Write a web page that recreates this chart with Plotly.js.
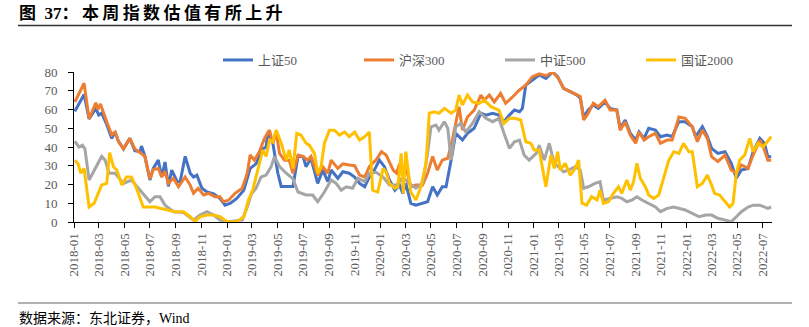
<!DOCTYPE html>
<html>
<head>
<meta charset="utf-8">
<script src="https://cdn.plot.ly/plotly-3.0.1.min.js"></script>
<style>
html,body{margin:0;padding:0;background:#fff;}
#chart{width:809px;height:327px;}
</style>
</head>
<body>
<div id="chart"></div>
<script>
// ---- 上证50 ----
const dates50 = ["2018-01-03","2018-01-25","2018-02-06","2018-02-22","2018-03-01","2018-03-08","2018-03-20","2018-04-01","2018-04-09","2018-04-17","2018-04-29","2018-05-14","2018-05-26","2018-06-07","2018-06-11","2018-06-19","2018-07-01","2018-07-09","2018-07-21","2018-07-29","2018-08-06","2018-08-14","2018-08-22","2018-09-04","2018-09-11","2018-09-23","2018-10-05","2018-10-13","2018-10-21","2018-11-02","2018-11-14","2018-11-30","2018-12-15","2018-12-27","2019-01-09","2019-01-24","2019-02-10","2019-02-25","2019-03-11","2019-03-27","2019-04-04","2019-04-08","2019-04-20","2019-05-02","2019-05-10","2019-05-22","2019-06-07","2019-06-19","2019-07-01","2019-07-08","2019-07-20","2019-08-05","2019-08-17","2019-08-29","2019-09-06","2019-09-22","2019-10-04","2019-10-19","2019-11-01","2019-11-13","2019-11-25","2019-12-06","2019-12-18","2019-12-30","2020-01-11","2020-01-23","2020-02-05","2020-02-16","2020-02-24","2020-03-02","2020-03-14","2020-03-26","2020-04-11","2020-04-23","2020-05-05","2020-05-16","2020-05-28","2020-06-06","2020-06-18","2020-06-29","2020-07-15","2020-07-27","2020-08-12","2020-08-28","2020-09-09","2020-09-25","2020-10-10","2020-10-22","2020-11-04","2020-11-16","2020-11-28","2020-12-05","2020-12-13","2020-12-29","2021-01-14","2021-01-30","2021-02-15","2021-02-27","2021-03-13","2021-03-29","2021-04-14","2021-04-22","2021-04-30","2021-05-11","2021-05-23","2021-06-04","2021-06-20","2021-07-02","2021-07-18","2021-07-26","2021-08-07","2021-08-19","2021-09-01","2021-09-09","2021-09-21","2021-10-02","2021-10-18","2021-10-30","2021-11-15","2021-11-27","2021-12-13","2021-12-28","2022-01-14","2022-01-22","2022-02-07","2022-02-19","2022-03-01","2022-03-16","2022-04-02","2022-04-17","2022-04-29","2022-05-11","2022-05-27","2022-06-08","2022-06-24","2022-07-05","2022-07-13","2022-07-21"];
const vals50 = [59,68,55,60.6,57,58,52,44.6,48,43,39,44.6,38,37.5,40.5,35,22.4,28.6,33,24,32,19,27.7,21.5,21.5,35,26,24,25,18,16,15,12.6,9,10,12.6,17,28.6,31,39,40,48,42,26,19,19,19,35,35,29.5,34,20.6,27.7,21.5,27.7,23.3,26.8,26,24,20.6,18.8,24,27.7,33,29.5,22.4,17,19.7,15.3,20.6,10,9,10,10.8,18.8,14.4,18.8,18.8,33,47.3,43.7,47.3,50,58,57,58,57,53.5,57,59.7,58.8,60.6,73,75.7,78.4,76.6,80,77.5,71.3,69.5,67.7,66,56,59.7,62.4,60.6,64,60.6,59.7,50,54.4,47.3,43.7,48,44.6,50,49,45.5,46.4,45.5,53.5,53.5,50.8,45.5,50.8,45.5,39.3,36.6,37.5,31.3,23.3,27.7,28.6,37.5,44.6,42,34.8,34.8];

// ---- 沪深300 ----
const dates300 = ["2018-01-03","2018-01-25","2018-02-06","2018-02-22","2018-02-27","2018-03-05","2018-03-20","2018-04-01","2018-04-09","2018-04-17","2018-04-29","2018-05-14","2018-05-26","2018-06-07","2018-06-19","2018-07-01","2018-07-09","2018-07-21","2018-07-29","2018-08-06","2018-08-14","2018-08-26","2018-09-07","2018-09-23","2018-10-05","2018-10-13","2018-10-24","2018-11-06","2018-11-18","2018-12-03","2018-12-15","2018-12-23","2019-01-05","2019-01-20","2019-02-06","2019-02-18","2019-02-25","2019-03-07","2019-03-19","2019-03-31","2019-04-12","2019-04-20","2019-04-28","2019-05-06","2019-05-18","2019-05-29","2019-06-07","2019-06-19","2019-07-01","2019-07-12","2019-07-20","2019-08-05","2019-08-17","2019-08-29","2019-09-06","2019-09-22","2019-10-04","2019-10-19","2019-11-01","2019-11-13","2019-11-25","2019-12-06","2019-12-22","2020-01-04","2020-01-15","2020-02-01","2020-02-09","2020-02-16","2020-02-24","2020-03-02","2020-03-14","2020-03-26","2020-04-11","2020-04-23","2020-05-05","2020-05-16","2020-05-28","2020-06-10","2020-06-21","2020-07-07","2020-07-15","2020-07-27","2020-08-12","2020-08-28","2020-09-05","2020-09-17","2020-09-29","2020-10-14","2020-10-26","2020-11-12","2020-11-28","2020-12-13","2020-12-29","2021-01-14","2021-01-30","2021-02-15","2021-03-01","2021-03-13","2021-03-29","2021-04-14","2021-04-22","2021-04-30","2021-05-11","2021-05-23","2021-06-04","2021-06-20","2021-07-02","2021-07-18","2021-07-26","2021-08-07","2021-08-19","2021-09-01","2021-09-09","2021-09-21","2021-10-02","2021-10-18","2021-10-30","2021-11-15","2021-11-27","2021-12-13","2021-12-28","2022-01-14","2022-01-26","2022-02-07","2022-02-19","2022-03-01","2022-03-16","2022-04-02","2022-04-17","2022-04-29","2022-05-11","2022-05-27","2022-06-08","2022-06-24","2022-07-05","2022-07-13","2022-07-21"];
const vals300 = [64,74,55,63.6,60,63,53.5,46.4,48,43,39,44.6,39,37,35,23,28,28.6,24,27,20.6,23.3,18.8,24,19.7,15.3,18,14.4,15.3,13.5,13.5,10.8,11.7,15.3,18,26,35.7,33,37.5,44.6,49,42,48,36.6,33,33,26,35.7,35,33,35,25,29.5,26,33,28.6,31,30.4,30,25,24,29.5,33,37.5,35.7,27.7,26,31,26,29.5,18.8,19.7,19.7,26,35,27.7,33,34,43.7,61.5,49,56,59.7,67.7,65,67.7,64,68.6,63.3,66.8,70.4,73,77.5,79,78,80,76.6,71.3,69.5,67.7,67,54.4,58,63.3,61.5,65,59.7,59.7,49,53.5,46.4,42,48,43.7,45.5,47.3,42,43.7,43.7,56,55.3,50.8,42.8,49,44.6,34.8,32.2,35.7,27.7,26,30.4,28.6,35.7,43.7,38.4,33,33];

// ---- 中证500 ----
const dates500 = ["2018-01-03","2018-01-13","2018-01-21","2018-01-27","2018-02-06","2018-02-18","2018-03-08","2018-03-16","2018-03-26","2018-04-09","2018-04-29","2018-05-18","2018-06-03","2018-06-19","2018-07-01","2018-07-13","2018-07-25","2018-08-06","2018-08-26","2018-09-19","2018-10-13","2018-10-28","2018-11-14","2018-11-30","2018-12-15","2019-01-01","2019-01-16","2019-02-06","2019-02-18","2019-02-28","2019-03-11","2019-03-23","2019-04-04","2019-04-16","2019-04-24","2019-05-06","2019-05-22","2019-06-07","2019-06-19","2019-07-08","2019-07-24","2019-08-05","2019-08-21","2019-09-06","2019-09-18","2019-09-30","2019-10-12","2019-10-27","2019-11-09","2019-11-25","2019-12-06","2019-12-22","2020-01-08","2020-01-23","2020-02-09","2020-02-24","2020-03-10","2020-03-26","2020-04-11","2020-04-23","2020-05-01","2020-05-13","2020-05-20","2020-06-02","2020-06-10","2020-06-18","2020-06-29","2020-07-11","2020-07-23","2020-08-08","2020-08-24","2020-09-09","2020-09-25","2020-10-10","2020-10-22","2020-11-04","2020-11-16","2020-11-28","2020-12-09","2020-12-21","2021-01-07","2021-01-14","2021-01-26","2021-02-07","2021-02-19","2021-03-01","2021-03-13","2021-03-25","2021-04-10","2021-04-22","2021-04-30","2021-05-11","2021-05-27","2021-06-08","2021-06-16","2021-07-02","2021-07-18","2021-07-30","2021-08-11","2021-08-23","2021-09-04","2021-09-16","2021-10-02","2021-10-18","2021-10-30","2021-11-15","2021-12-01","2021-12-13","2021-12-28","2022-01-14","2022-01-30","2022-02-15","2022-03-01","2022-03-16","2022-04-02","2022-04-17","2022-04-29","2022-05-11","2022-05-27","2022-06-08","2022-06-24","2022-07-05","2022-07-13","2022-07-21"];
const vals500 = [43,40,41,39,22.4,27.7,35,33,26,26,20.6,22.4,18,13.5,10.8,13.5,13.5,9,5.5,5,1,3.7,5.5,3.7,1,0.2,0.7,1,8,15,18,24,25,29.5,35,29.5,26,23,16,14.4,14.4,10.8,16,22.4,20.6,17,18.8,18,23.3,21.5,26,26.5,24,19.7,19.7,24,20.6,18,20.6,36.6,50.8,51.7,49,53.5,50,33,50.8,52.6,48,52.6,58.8,55.3,53.5,55.3,47.3,39.3,42.8,43.7,35.7,33,36.6,41,33,42,31,29.5,26.8,27.7,29.5,27.7,18,18.8,20.6,21.5,11.7,12.6,13.5,12.6,10.8,11.7,13.5,11.7,10,8,5.5,7.3,8,7.3,6.4,4.6,2.8,3.7,3.7,2,1,0.2,2.8,5.5,8,9,9,8,7.3,8];

// ---- 国证2000 ----
const dates2000 = ["2018-01-03","2018-01-11","2018-01-17","2018-01-25","2018-02-06","2018-02-18","2018-03-01","2018-03-08","2018-03-20","2018-03-27","2018-04-05","2018-04-13","2018-04-25","2018-05-06","2018-05-18","2018-05-30","2018-06-15","2018-07-01","2018-07-13","2018-07-25","2018-08-10","2018-08-30","2018-09-19","2018-10-05","2018-10-17","2018-10-28","2018-11-14","2018-11-30","2018-12-15","2019-01-01","2019-01-24","2019-02-10","2019-02-21","2019-03-03","2019-03-15","2019-03-27","2019-04-04","2019-04-12","2019-04-20","2019-04-28","2019-05-10","2019-05-22","2019-05-29","2019-06-07","2019-06-16","2019-06-26","2019-07-08","2019-07-16","2019-07-28","2019-08-05","2019-08-13","2019-08-21","2019-09-02","2019-09-14","2019-09-26","2019-10-08","2019-10-19","2019-11-01","2019-11-13","2019-11-25","2019-12-06","2019-12-14","2019-12-26","2020-01-08","2020-01-15","2020-01-23","2020-02-05","2020-02-12","2020-02-20","2020-02-25","2020-03-02","2020-03-14","2020-03-26","2020-04-07","2020-04-19","2020-04-27","2020-05-09","2020-05-20","2020-06-02","2020-06-18","2020-06-29","2020-07-07","2020-07-15","2020-07-27","2020-08-08","2020-08-24","2020-09-05","2020-09-21","2020-10-10","2020-10-22","2020-11-04","2020-11-16","2020-12-01","2020-12-13","2020-12-25","2021-01-02","2021-01-14","2021-01-22","2021-01-30","2021-02-11","2021-02-19","2021-02-27","2021-03-05","2021-03-17","2021-03-29","2021-04-10","2021-04-18","2021-04-26","2021-05-07","2021-05-19","2021-06-01","2021-06-08","2021-06-16","2021-06-28","2021-07-10","2021-07-22","2021-07-30","2021-08-11","2021-08-19","2021-08-27","2021-09-04","2021-09-12","2021-09-24","2021-10-02","2021-10-14","2021-10-26","2021-11-07","2021-11-19","2021-12-01","2021-12-13","2021-12-24","2022-01-06","2022-01-14","2022-01-26","2022-02-07","2022-02-19","2022-03-01","2022-03-08","2022-03-20","2022-04-02","2022-04-13","2022-04-21","2022-04-29","2022-05-07","2022-05-19","2022-05-31","2022-06-08","2022-06-20","2022-07-01","2022-07-09","2022-07-21"];
const vals2000 = [33,31,26,28.6,8,10,16,19.7,20.6,37,29.5,27.7,19.7,24,24,18,8,8,8,7.3,6.4,5.5,5.5,2.8,0.2,2.8,3.7,3.7,2.8,0.2,0.2,2.8,11.7,17,27.7,38.4,35,43.7,42.8,49,42,33,38.4,28.6,47.3,46.4,42,41,36.6,26,29.5,42,49,49,46.4,48,45.5,48,43.7,45.5,48,17,16,28.6,26.8,20.6,18,18.8,36.6,15.3,37.5,16,11.7,18.8,31,58,58.8,58,60.6,58,59.7,67.7,62.4,67.7,64,63.3,65,61.5,59.7,52.6,55.3,55.3,54.4,42.8,42,38.4,38.4,29.5,18.8,35.7,28.6,37.5,27.7,31.3,25,28.6,33,10,9,13.5,11.7,17,10,10.8,15.3,18.8,15.3,22.4,17,21.5,31.3,23.3,18.8,14.4,12.6,14.4,24,33,37.5,36.6,42,37.5,37.5,18.8,20.6,25,19.7,15.3,14.4,10.8,8,9.8,26,33,35.7,44.6,37.5,42,40,42,45.5];

const seriesNames = ["上证50","沪深300","中证500","国证2000"];
const seriesColors = ["#4472C4","#ED7D31","#A5A5A5","#FFC000"];
const seriesX = [dates50, dates300, dates500, dates2000];
const seriesY = [vals50, vals300, vals500, vals2000];

const traces = seriesNames.map((n,i)=>({
  type:'scatter', mode:'lines', name:n,
  x: seriesX[i], y: seriesY[i],
  line:{color:seriesColors[i], width:3, shape:'linear'},
  hoverinfo:'skip'
}));

const PL=74, PR=772, PT=72, PB=222;
const px2x = p => (p-PL)/(PR-PL);
const py2y = p => (PB-p)/(PB-PT);

const tickFont = {family:'"Liberation Serif", "Noto Sans CJK SC", serif', size:13, color:'#595959'};

const layout = {
  width:809, height:327,
  margin:{l:PL, r:809-PR, t:PT, b:327-PB, pad:0},
  paper_bgcolor:'#fff', plot_bgcolor:'#fff',
  showlegend:true,
  legend:{orientation:'h', x:px2x(218), xanchor:'left', y:py2y(60), yanchor:'middle',
          entrywidth:96, entrywidthmode:'pixels',
          font:{family:'"Liberation Serif", "Noto Sans CJK SC", serif', size:13, color:'#595959'},
          bgcolor:'rgba(0,0,0,0)'},
  xaxis:{type:'date', range:['2018-01-01','2022-07-23'], tick0:'2018-01-01', dtick:'M2',
         tickformat:'%Y-%m', tickangle:-90, ticks:'outside', ticklen:5, tickcolor:'#000', tickwidth:1,
         showline:true, linecolor:'#000', linewidth:1, showgrid:false, zeroline:false,
         tickfont:tickFont, fixedrange:true},
  yaxis:{range:[0,80], dtick:10, ticks:'outside', ticklen:5, tickcolor:'#000', tickwidth:1,
         showline:true, linecolor:'#000', linewidth:1, showgrid:false, zeroline:false,
         tickfont:tickFont, ticklabelstandoff:8, fixedrange:true},
  shapes:[
    {type:'line', xref:'paper', yref:'paper', x0:px2x(18), x1:px2x(792), y0:py2y(25.5), y1:py2y(25.5), line:{color:'#333', width:1.5}},
    {type:'line', xref:'paper', yref:'paper', x0:px2x(18), x1:px2x(792), y0:py2y(303), y1:py2y(303), line:{color:'#999', width:1.5}}
  ],
  annotations:[
    {xref:'paper', yref:'paper', x:px2x(17), y:py2y(14), xanchor:'left', yanchor:'middle', showarrow:false,
     text:'<b>图\u00a0\u00a037：\u2009本\u2009周\u2009指\u2009数\u2009估\u2009值\u2009有\u2009所\u2009上\u2009升</b>',
     font:{family:'"Liberation Serif", "Noto Sans CJK SC", serif', size:17, color:'#000'}},
    {xref:'paper', yref:'paper', x:px2x(17), y:py2y(318), xanchor:'left', yanchor:'middle', showarrow:false,
     text:'数据来源：东北证券，Wind',
     font:{family:'"Liberation Serif", "Noto Sans CJK SC", serif', size:14, color:'#000'}}
  ]
};

Plotly.newPlot('chart', traces, layout, {displayModeBar:false, staticPlot:true});
</script>
</body>
</html>
